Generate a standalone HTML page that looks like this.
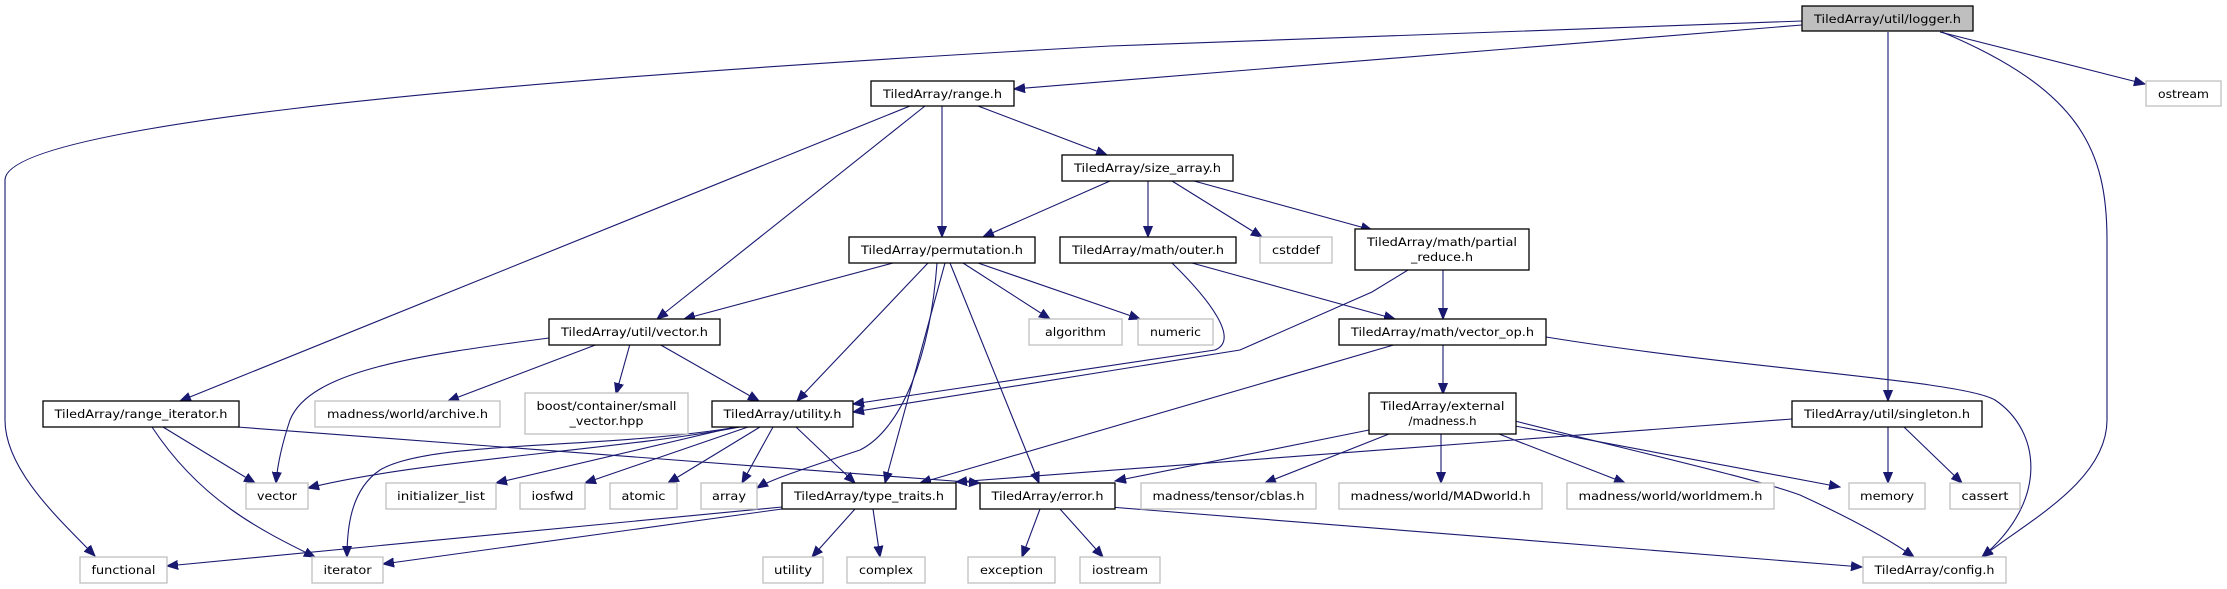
<!DOCTYPE html>
<html><head><meta charset="utf-8"><style>
html,body{margin:0;padding:0;background:#fff;}
svg{display:block;}
text{font-family:"DejaVu Sans","Liberation Sans",sans-serif;font-size:11.5px;fill:#000;text-anchor:middle;}
.e{fill:none;stroke:#191970;stroke-width:1.1;}
.b{fill:#fff;stroke:#000;stroke-width:1.3;}
.g{fill:#fff;stroke:#bfbfbf;stroke-width:1.3;}
</style></head><body>
<svg width="2227" height="589" viewBox="0 0 2227 589" xmlns="http://www.w3.org/2000/svg">
<defs><marker id="a" markerUnits="userSpaceOnUse" markerWidth="12" markerHeight="10" refX="11" refY="5" orient="auto"><path d="M0,0.5 L11,5 L0,9.5 z" fill="#191970" stroke="#191970"/></marker></defs>
<g marker-end="url(#a)">
<path class="e" d="M1802,21 L1110,46 C400,85 5,130 5,180 L5,420 C5,470 60,520 95,556"/>
<path class="e" d="M1802,25 L1014,89"/>
<path class="e" d="M1888,32 L1888,401"/>
<path class="e" d="M1940,32 L2145,84"/>
<path class="e" d="M1942,32 C2080,90 2107,150 2107,240 L2107,420 C2107,480 2030,520 1982,557"/>
<path class="e" d="M942,106 L942,237"/>
<path class="e" d="M978,106 L1107,155"/>
<path class="e" d="M925,106 L657,319"/>
<path class="e" d="M910,106 L180,401"/>
<path class="e" d="M1110,181 L983,237"/>
<path class="e" d="M1148,181 L1148,237"/>
<path class="e" d="M1172,181 L1262,237"/>
<path class="e" d="M1194,181 L1372,230"/>
<path class="e" d="M893,263 L684,319"/>
<path class="e" d="M928,263 L797,401"/>
<path class="e" d="M937,263 C930,360 900,430 860,450 C800,470 770,480 757,488"/>
<path class="e" d="M945,263 L885,483"/>
<path class="e" d="M950,263 L1039,483"/>
<path class="e" d="M963,263 L1050,319"/>
<path class="e" d="M978,263 L1140,319"/>
<path class="e" d="M1172,263 C1210,300 1240,340 1215,350 L853,404"/>
<path class="e" d="M1408,270 L1372,292 L1240,350 L853,412"/>
<path class="e" d="M1443,270 L1443,319"/>
<path class="e" d="M1192,263 L1395,319"/>
<path class="e" d="M549,338 C420,355 310,370 290,420 C280,450 277,470 276,483"/>
<path class="e" d="M598,344 L448,401"/>
<path class="e" d="M630,344 L616,394"/>
<path class="e" d="M659,344 L759,401"/>
<path class="e" d="M1397,344 L920,483"/>
<path class="e" d="M1443,344 L1443,394"/>
<path class="e" d="M1546,337 C1750,370 1960,380 1995,400 C2040,430 2050,500 1982,557"/>
<path class="e" d="M163,427 L255,483"/>
<path class="e" d="M152,427 C200,500 260,530 315,557"/>
<path class="e" d="M237,427 L980,483"/>
<path class="e" d="M740,427 C620,450 420,460 308,488"/>
<path class="e" d="M738,427 C600,450 430,440 380,470 C350,490 347,530 347,557"/>
<path class="e" d="M735,427 L496,483"/>
<path class="e" d="M748,427 L585,483"/>
<path class="e" d="M760,427 L668,483"/>
<path class="e" d="M773,427 L742,483"/>
<path class="e" d="M796,427 L855,483"/>
<path class="e" d="M782,507 L167,566"/>
<path class="e" d="M782,509 L383,564"/>
<path class="e" d="M855,509 L812,557"/>
<path class="e" d="M873,509 L880,557"/>
<path class="e" d="M1040,509 L1022,557"/>
<path class="e" d="M1060,509 L1103,557"/>
<path class="e" d="M1110,507 L1862,567"/>
<path class="e" d="M1792,419 L956,482"/>
<path class="e" d="M1369,430 L1115,481"/>
<path class="e" d="M1389,434 L1265,483"/>
<path class="e" d="M1441,434 L1441,483"/>
<path class="e" d="M1499,434 L1625,483"/>
<path class="e" d="M1515,426 L1840,487"/>
<path class="e" d="M1515,421 C1650,455 1760,480 1800,495 C1850,518 1890,540 1914,557"/>
<path class="e" d="M1888,427 L1888,483"/>
<path class="e" d="M1904,427 L1962,483"/>
</g>
<rect x="1802" y="6" width="171" height="25" fill="#bfbfbf" stroke="#000" stroke-width="1.3"/>
<text x="1887.5" y="23" textLength="147" lengthAdjust="spacingAndGlyphs">TiledArray/util/logger.h</text>

<rect class="b" x="871" y="81" width="143" height="25"/><text x="942.5" y="98" textLength="119" lengthAdjust="spacingAndGlyphs">TiledArray/range.h</text>
<rect class="g" x="2146" y="81" width="75" height="25"/><text x="2183.5" y="98" textLength="51" lengthAdjust="spacingAndGlyphs">ostream</text>
<rect class="b" x="1062" y="155" width="171" height="26"/><text x="1147.5" y="172" textLength="147" lengthAdjust="spacingAndGlyphs">TiledArray/size_array.h</text>
<rect class="b" x="849" y="237" width="186" height="26"/><text x="942" y="254" textLength="162" lengthAdjust="spacingAndGlyphs">TiledArray/permutation.h</text>
<rect class="b" x="1060" y="237" width="176" height="26"/><text x="1148" y="254" textLength="152" lengthAdjust="spacingAndGlyphs">TiledArray/math/outer.h</text>
<rect class="g" x="1260" y="237" width="72" height="26"/><text x="1296" y="254" textLength="48" lengthAdjust="spacingAndGlyphs">cstddef</text>
<rect class="b" x="1355" y="229" width="174" height="41"/><text x="1442" y="246" textLength="150" lengthAdjust="spacingAndGlyphs">TiledArray/math/partial</text><text x="1442" y="261" textLength="62" lengthAdjust="spacingAndGlyphs">_reduce.h</text>
<rect class="b" x="549" y="319" width="171" height="26"/><text x="634.5" y="336" textLength="147" lengthAdjust="spacingAndGlyphs">TiledArray/util/vector.h</text>
<rect class="g" x="1029" y="319" width="93" height="26"/><text x="1075.5" y="336" textLength="61" lengthAdjust="spacingAndGlyphs">algorithm</text>
<rect class="g" x="1138" y="319" width="75" height="26"/><text x="1175.5" y="336" textLength="51" lengthAdjust="spacingAndGlyphs">numeric</text>
<rect class="b" x="1339" y="319" width="207" height="26"/><text x="1442.5" y="336" textLength="183" lengthAdjust="spacingAndGlyphs">TiledArray/math/vector_op.h</text>
<rect class="b" x="43" y="401" width="196" height="26"/><text x="141" y="418" textLength="173" lengthAdjust="spacingAndGlyphs">TiledArray/range_iterator.h</text>
<rect class="g" x="315" y="401" width="185" height="26"/><text x="407.5" y="418" textLength="161" lengthAdjust="spacingAndGlyphs">madness/world/archive.h</text>
<rect class="g" x="525" y="393" width="163" height="41"/><text x="606.5" y="410" textLength="140" lengthAdjust="spacingAndGlyphs">boost/container/small</text><text x="606.5" y="425" textLength="74" lengthAdjust="spacingAndGlyphs">_vector.hpp</text>
<rect class="b" x="712" y="401" width="141" height="26"/><text x="782.5" y="418" textLength="118" lengthAdjust="spacingAndGlyphs">TiledArray/utility.h</text>
<rect class="b" x="1369" y="393" width="147" height="41"/><text x="1442.5" y="410" textLength="124" lengthAdjust="spacingAndGlyphs">TiledArray/external</text><text x="1442.5" y="425" textLength="68" lengthAdjust="spacingAndGlyphs">/madness.h</text>
<rect class="b" x="1792" y="401" width="190" height="26"/><text x="1887" y="418" textLength="166" lengthAdjust="spacingAndGlyphs">TiledArray/util/singleton.h</text>
<rect class="g" x="246" y="483" width="62" height="26"/><text x="277" y="500" textLength="40" lengthAdjust="spacingAndGlyphs">vector</text>
<rect class="g" x="386" y="483" width="110" height="26"/><text x="441" y="500" textLength="88" lengthAdjust="spacingAndGlyphs">initializer_list</text>
<rect class="g" x="520" y="483" width="65" height="26"/><text x="552.5" y="500" textLength="42" lengthAdjust="spacingAndGlyphs">iosfwd</text>
<rect class="g" x="610" y="483" width="67" height="26"/><text x="643.5" y="500" textLength="44" lengthAdjust="spacingAndGlyphs">atomic</text>
<rect class="g" x="701" y="483" width="56" height="26"/><text x="729" y="500" textLength="34" lengthAdjust="spacingAndGlyphs">array</text>
<rect class="b" x="782" y="483" width="174" height="26"/><text x="869" y="500" textLength="150" lengthAdjust="spacingAndGlyphs">TiledArray/type_traits.h</text>
<rect class="b" x="980" y="483" width="135" height="26"/><text x="1047.5" y="500" textLength="112" lengthAdjust="spacingAndGlyphs">TiledArray/error.h</text>
<rect class="g" x="1141" y="483" width="175" height="26"/><text x="1228.5" y="500" textLength="152" lengthAdjust="spacingAndGlyphs">madness/tensor/cblas.h</text>
<rect class="g" x="1339" y="483" width="203" height="26"/><text x="1440.5" y="500" textLength="180" lengthAdjust="spacingAndGlyphs">madness/world/MADworld.h</text>
<rect class="g" x="1567" y="483" width="207" height="26"/><text x="1670.5" y="500" textLength="184" lengthAdjust="spacingAndGlyphs">madness/world/worldmem.h</text>
<rect class="g" x="1849" y="483" width="76" height="26"/><text x="1887" y="500" textLength="54" lengthAdjust="spacingAndGlyphs">memory</text>
<rect class="g" x="1950" y="483" width="70" height="26"/><text x="1985" y="500" textLength="47" lengthAdjust="spacingAndGlyphs">cassert</text>
<rect class="g" x="80" y="557" width="87" height="26"/><text x="123.5" y="574" textLength="64" lengthAdjust="spacingAndGlyphs">functional</text>
<rect class="g" x="312" y="557" width="71" height="26"/><text x="347.5" y="574" textLength="48" lengthAdjust="spacingAndGlyphs">iterator</text>
<rect class="g" x="763" y="557" width="60" height="26"/><text x="793" y="574" textLength="38" lengthAdjust="spacingAndGlyphs">utility</text>
<rect class="g" x="847" y="557" width="78" height="26"/><text x="886" y="574" textLength="54" lengthAdjust="spacingAndGlyphs">complex</text>
<rect class="g" x="968" y="557" width="87" height="26"/><text x="1011.5" y="574" textLength="63" lengthAdjust="spacingAndGlyphs">exception</text>
<rect class="g" x="1080" y="557" width="80" height="26"/><text x="1120" y="574" textLength="56" lengthAdjust="spacingAndGlyphs">iostream</text>
<rect class="g" x="1863" y="557" width="143" height="26"/><text x="1934.5" y="574" textLength="120" lengthAdjust="spacingAndGlyphs">TiledArray/config.h</text>
</svg>
</body></html>
